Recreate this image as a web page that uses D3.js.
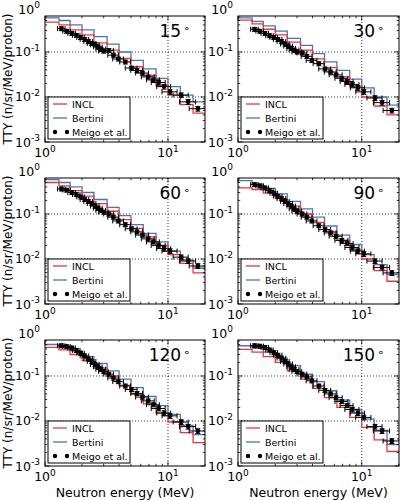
<!DOCTYPE html>
<html><head><meta charset="utf-8">
<script src="https://cdn.jsdelivr.net/npm/d3@7"></script>
<style>body{margin:0;background:#fff} text{font-family:"DejaVu Sans",sans-serif;fill:#000}</style>
</head><body><svg id="c" width="400" height="500"></svg>
<script>
// ---------- data ----------
const angles = ["15", "30", "60", "90", "120", "150"];
const seriesNames = ["INCL", "Bertini", "Meigo et al."];
const xTickLabels = ["0", "1"];            // exponents of 10
const yTickLabels = ["0", "-1", "-2", "-3"];
const binEdges = [1, 1.3, 1.6, 2.0, 2.5, 3.2, 4.0, 5.0, 6.3, 8.0, 10, 12.6, 16, 20];

const incl15  = [0.46, 0.40, 0.31, 0.24, 0.16, 0.11, 0.072, 0.047, 0.030, 0.018, 0.011, 0.0068, 0.0044];
const bert15  = [0.57, 0.50, 0.40, 0.31, 0.22, 0.15, 0.10, 0.065, 0.042, 0.026, 0.017, 0.011, 0.0078];
const incl30  = [0.51, 0.42, 0.32, 0.24, 0.165, 0.11, 0.07, 0.045, 0.028, 0.017, 0.010, 0.0063, 0.004];
const bert30  = [0.57, 0.48, 0.38, 0.29, 0.20, 0.14, 0.092, 0.06, 0.039, 0.025, 0.016, 0.010, 0.0066];
const incl60  = [0.50, 0.42, 0.33, 0.25, 0.17, 0.115, 0.075, 0.048, 0.031, 0.020, 0.0125, 0.008, 0.0049];
const bert60  = [0.58, 0.50, 0.40, 0.30, 0.21, 0.14, 0.092, 0.058, 0.037, 0.024, 0.015, 0.0095, 0.0063];
const incl90  = [0.38, 0.35, 0.29, 0.22, 0.15, 0.10, 0.065, 0.041, 0.026, 0.016, 0.010, 0.0055, 0.0032];
const bert90  = [0.55, 0.46, 0.37, 0.28, 0.19, 0.13, 0.085, 0.054, 0.034, 0.021, 0.0125, 0.0075, 0.0045];
const incl120 = [0.43, 0.38, 0.30, 0.22, 0.15, 0.10, 0.062, 0.039, 0.024, 0.015, 0.0095, 0.0055, 0.0033];
const bert120 = [0.50, 0.45, 0.36, 0.27, 0.19, 0.13, 0.085, 0.055, 0.035, 0.022, 0.014, 0.008, 0.005];
const incl150 = [0.39, 0.34, 0.27, 0.20, 0.13, 0.085, 0.053, 0.033, 0.020, 0.012, 0.0072, 0.0038, 0.0021];
const bert150 = [0.47, 0.42, 0.34, 0.25, 0.17, 0.11, 0.075, 0.047, 0.029, 0.018, 0.011, 0.0062, 0.003];

const energies = [1.36, 1.5, 1.65, 1.8, 1.95, 2.1, 2.25, 2.4, 2.55, 2.7, 2.85, 3.0, 3.3, 3.6, 3.95, 4.5, 5.05, 5.6, 6.2, 6.9, 7.6, 8.4, 9.3, 10.4, 12.8, 14.6, 17.5];
const xErrFrac = [0.07, 0.07, 0.07, 0.07, 0.07, 0.08, 0.08, 0.08, 0.08, 0.08, 0.09, 0.09, 0.09, 0.1, 0.1, 0.1, 0.11, 0.11, 0.12, 0.12, 0.12, 0.13, 0.13, 0.14, 0.14, 0.15, 0.15];
const yErrFrac = [0.1, 0.1, 0.1, 0.1, 0.1, 0.1, 0.1, 0.1, 0.1, 0.1, 0.1, 0.1, 0.1, 0.1, 0.1, 0.1, 0.1, 0.1, 0.1, 0.1, 0.1, 0.12, 0.12, 0.12, 0.12, 0.12, 0.12];
const meigo15  = [0.33, 0.29, 0.26, 0.235, 0.21, 0.19, 0.17, 0.155, 0.145, 0.13, 0.115, 0.105, 0.108, 0.085, 0.07, 0.06, 0.044, 0.039, 0.034, 0.028, 0.024, 0.021, 0.017, 0.013, 0.011, 0.0078, 0.0055];
const meigo30  = [0.32, 0.29, 0.26, 0.23, 0.21, 0.19, 0.17, 0.15, 0.135, 0.12, 0.11, 0.10, 0.095, 0.08, 0.065, 0.055, 0.042, 0.036, 0.031, 0.026, 0.022, 0.019, 0.016, 0.013, 0.0095, 0.0075, 0.005];
const meigo60  = [0.36, 0.34, 0.30, 0.27, 0.24, 0.21, 0.19, 0.17, 0.15, 0.135, 0.12, 0.11, 0.10, 0.085, 0.07, 0.058, 0.047, 0.04, 0.034, 0.028, 0.024, 0.02, 0.017, 0.015, 0.011, 0.009, 0.007];
const meigo90  = [0.45, 0.42, 0.38, 0.33, 0.29, 0.25, 0.22, 0.19, 0.17, 0.15, 0.13, 0.115, 0.10, 0.085, 0.07, 0.055, 0.045, 0.038, 0.032, 0.026, 0.022, 0.018, 0.015, 0.013, 0.009, 0.0065, 0.0049];
const meigo120 = [0.47, 0.45, 0.42, 0.37, 0.32, 0.28, 0.24, 0.21, 0.18, 0.16, 0.14, 0.125, 0.11, 0.09, 0.075, 0.06, 0.05, 0.041, 0.034, 0.028, 0.023, 0.019, 0.015, 0.013, 0.0095, 0.0075, 0.006];
const meigo150 = [0.47, 0.46, 0.43, 0.38, 0.33, 0.29, 0.25, 0.21, 0.185, 0.16, 0.14, 0.125, 0.11, 0.095, 0.078, 0.06, 0.048, 0.04, 0.033, 0.027, 0.022, 0.018, 0.015, 0.012, 0.0075, 0.006, 0.0036];

const inclAll = [incl15, incl30, incl60, incl90, incl120, incl150];
const bertAll = [bert15, bert30, bert60, bert90, bert120, bert150];
const meigoAll = [meigo15, meigo30, meigo60, meigo90, meigo120, meigo150];

// ---------- layout ----------
const colX = [[45, 205], [238, 399]];
const rowY = [[16, 142], [178, 304], [340, 466]];
const RED = "#e53a3c", BLUE = "#4a75b5";

const svg = d3.select("#c");

function supText(g, x, y, exp, anchor) {
  const t = g.append("text").attr("x", x).attr("y", y).attr("text-anchor", anchor)
    .attr("font-size", 12.5);
  t.append("tspan").text("10");
  t.append("tspan").attr("dy", -5.5).attr("font-size", 9).text(exp);
  return t;
}

angles.forEach((ang, i) => {
  const col = i % 2, row = Math.floor(i / 2);
  const [x0, x1] = colX[col], [y0, y1] = rowY[row];
  const x = d3.scaleLog().domain([1, 20]).range([x0, x1]);
  const y = d3.scaleLog().domain([1e-3, 0.63]).range([y1, y0]);
  const g = svg.append("g");
  const cid = "clip" + i;
  svg.append("clipPath").attr("id", cid).append("rect")
    .attr("x", x0).attr("y", y0).attr("width", x1 - x0).attr("height", y1 - y0);
  const pg = g.append("g").attr("clip-path", `url(#${cid})`);

  // grid
  [0.1, 0.01].forEach(v => pg.append("line").attr("x1", x0).attr("x2", x1)
    .attr("y1", y(v)).attr("y2", y(v)).attr("stroke", "#000").attr("stroke-width", 0.8)
    .attr("stroke-dasharray", "1,2"));
  [10].forEach(v => pg.append("line").attr("y1", y0).attr("y2", y1)
    .attr("x1", x(v)).attr("x2", x(v)).attr("stroke", "#000").attr("stroke-width", 0.8)
    .attr("stroke-dasharray", "1,2"));

  // histograms
  function stepPath(vals) {
    let d = "";
    vals.forEach((v, k) => {
      const xa = x(binEdges[k]), xb = x(binEdges[k + 1]), yy = y(v);
      d += (k === 0 ? "M" : "L") + xa + "," + yy + "L" + xb + "," + yy;
    });
    return d;
  }
  pg.append("path").attr("d", stepPath(bertAll[i])).attr("fill", "none")
    .attr("stroke", BLUE).attr("stroke-width", 1.3);
  pg.append("path").attr("d", stepPath(inclAll[i])).attr("fill", "none")
    .attr("stroke", RED).attr("stroke-width", 1.3);

  // data with error bars
  const dg = pg.append("g").attr("stroke", "#000").attr("stroke-width", 1);
  meigoAll[i].forEach((v, k) => {
    const e = energies[k];
    const xl = x(e * (1 - xErrFrac[k])), xr = x(e * (1 + xErrFrac[k]));
    const yt = y(v * (1 + yErrFrac[k])), yb = y(v * (1 - yErrFrac[k]));
    const cx = x(e), cy = y(v);
    dg.append("line").attr("x1", xl).attr("x2", xr).attr("y1", cy).attr("y2", cy);
    dg.append("line").attr("x1", xl).attr("x2", xl).attr("y1", cy - 2.5).attr("y2", cy + 2.5);
    dg.append("line").attr("x1", xr).attr("x2", xr).attr("y1", cy - 2.5).attr("y2", cy + 2.5);
    dg.append("line").attr("x1", cx).attr("x2", cx).attr("y1", yt).attr("y2", yb);
    dg.append("line").attr("x1", cx - 2.5).attr("x2", cx + 2.5).attr("y1", yt).attr("y2", yt);
    dg.append("line").attr("x1", cx - 2.5).attr("x2", cx + 2.5).attr("y1", yb).attr("y2", yb);
    dg.append("circle").attr("cx", cx).attr("cy", cy).attr("r", 2.4).attr("fill", "#000").attr("stroke", "none");
  });

  // ticks (inside, all four sides)
  const tk = g.append("g").attr("stroke", "#000").attr("stroke-width", 0.8);
  const xMaj = [1, 10], xMin = [2, 3, 4, 5, 6, 7, 8, 9, 20];
  const yMaj = [0.001, 0.01, 0.1];
  const yMin = [];
  [0.001, 0.01, 0.1].forEach(d => { for (let m = 2; m <= 9; m++) if (m * d <= 0.63) yMin.push(m * d); });
  xMaj.forEach(v => {
    tk.append("line").attr("x1", x(v)).attr("x2", x(v)).attr("y1", y1).attr("y2", y1 - 4.5);
    tk.append("line").attr("x1", x(v)).attr("x2", x(v)).attr("y1", y0).attr("y2", y0 + 4.5);
  });
  xMin.forEach(v => {
    tk.append("line").attr("x1", x(v)).attr("x2", x(v)).attr("y1", y1).attr("y2", y1 - 2.2);
    tk.append("line").attr("x1", x(v)).attr("x2", x(v)).attr("y1", y0).attr("y2", y0 + 2.2);
  });
  yMaj.forEach(v => {
    tk.append("line").attr("x1", x0).attr("x2", x0 + 4.5).attr("y1", y(v)).attr("y2", y(v));
    tk.append("line").attr("x1", x1).attr("x2", x1 - 4.5).attr("y1", y(v)).attr("y2", y(v));
  });
  yMin.forEach(v => {
    tk.append("line").attr("x1", x0).attr("x2", x0 + 2.2).attr("y1", y(v)).attr("y2", y(v));
    tk.append("line").attr("x1", x1).attr("x2", x1 - 2.2).attr("y1", y(v)).attr("y2", y(v));
  });

  // frame
  g.append("rect").attr("x", x0).attr("y", y0).attr("width", x1 - x0).attr("height", y1 - y0)
    .attr("fill", "none").attr("stroke", "#000").attr("stroke-width", 1);

  // tick labels
  [1, 10].forEach((v, k) => supText(g, x(v), y1 + 15, xTickLabels[k], "middle"));
  [1, 0.1, 0.01, 0.001].forEach((v, k) =>
    supText(g, x0 - 5, v === 1 ? y0 - 2.5 : y(v) + 4.5, yTickLabels[k], "end"));

  // angle label
  const at = g.append("text").attr("x", x1 - 15).attr("y", y0 + 21).attr("text-anchor", "end")
    .attr("font-size", 17);
  at.append("tspan").text(ang);
  at.append("tspan").attr("dx", 2).attr("dy", -5).attr("font-size", 11).text("∘");

  // legend
  const lx = x0 + 3, ly = y1 - 45;
  const lg = g.append("g");
  lg.append("rect").attr("x", lx).attr("y", ly).attr("width", 82).attr("height", 42)
    .attr("fill", "#fff").attr("stroke", "#000").attr("stroke-width", 1);
  const rows = [ly + 7, ly + 21, ly + 35];
  lg.append("line").attr("x1", lx + 5).attr("x2", lx + 19).attr("y1", rows[0]).attr("y2", rows[0])
    .attr("stroke", RED).attr("stroke-width", 1.3);
  lg.append("line").attr("x1", lx + 5).attr("x2", lx + 19).attr("y1", rows[1]).attr("y2", rows[1])
    .attr("stroke", BLUE).attr("stroke-width", 1.3);
  [lx + 7, lx + 19].forEach(cx => lg.append("circle").attr("cx", cx).attr("cy", rows[2]).attr("r", 2.2).attr("fill", "#000"));
  seriesNames.forEach((s, k) => lg.append("text").attr("x", lx + 24).attr("y", rows[k] + 3.5)
    .attr("font-size", 9.5).text(s));

  // axis titles
  if (col === 0) {
    svg.append("text").attr("transform", `translate(12,${(y0 + y1) / 2}) rotate(-90)`)
      .attr("text-anchor", "middle").attr("font-size", 12).text("TTY (n/sr/MeV/proton)");
  }
  if (row === 2) {
    svg.append("text").attr("x", (x0 + x1) / 2).attr("y", 497).attr("text-anchor", "middle")
      .attr("font-size", 12.5).text("Neutron energy (MeV)");
  }
});
</script></body></html>
